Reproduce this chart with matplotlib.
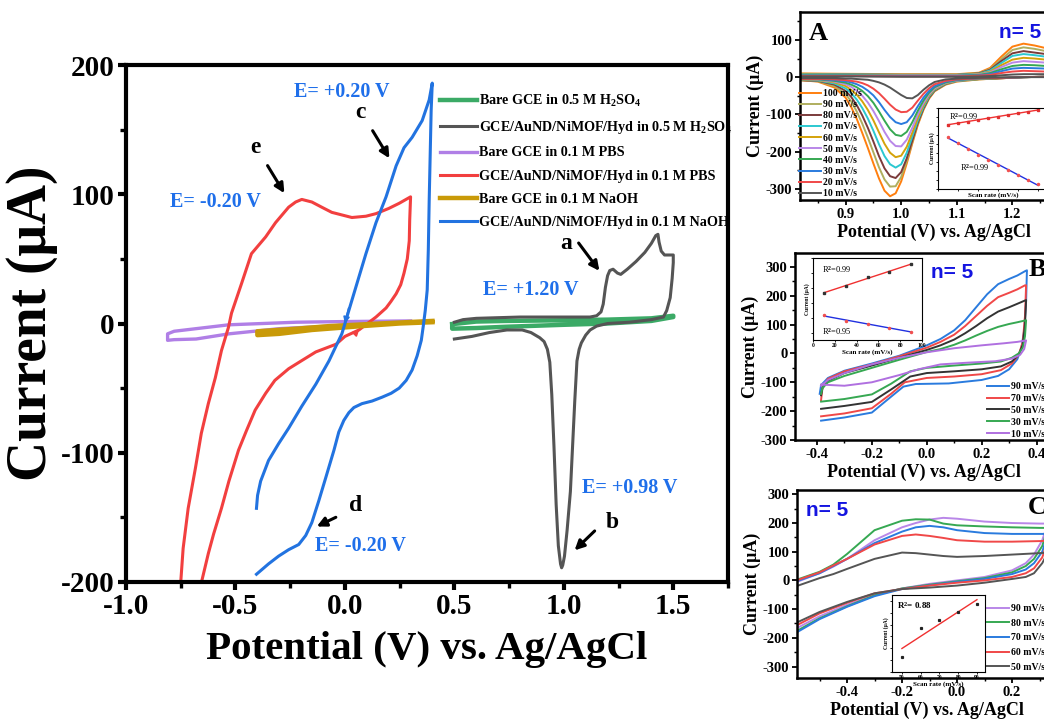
import matplotlib
matplotlib.use('Agg')
import matplotlib.pyplot as plt
import numpy as np
from matplotlib.ticker import MultipleLocator

plt.rcParams['font.family'] = ['Liberation Serif', 'DejaVu Serif']
plt.rcParams['font.weight'] = 'bold'
plt.rcParams['axes.labelweight'] = 'bold'
plt.rcParams['axes.unicode_minus'] = False
plt.rcParams['mathtext.fontset'] = 'custom'
plt.rcParams['mathtext.rm'] = 'Liberation Serif:bold'
plt.rcParams['mathtext.bf'] = 'Liberation Serif:bold'
plt.rcParams['mathtext.it'] = 'Liberation Serif:bold:italic'
plt.rcParams['mathtext.default'] = 'bf'

W, H = 1044, 719

# ---------------- main panel data ----------------
main_labels = ['Bare GCE in 0.5 M H$_2$SO$_4$',
               'GCE/AuND/NiMOF/Hyd in 0.5 M H$_2$SO$_4$',
               'Bare GCE in 0.1 M PBS',
               'GCE/AuND/NiMOF/Hyd in 0.1 M PBS',
               'Bare GCE in 0.1 M NaOH',
               'GCE/AuND/NiMOF/Hyd in 0.1 M NaOH']
main_colors = ['#3BAA66', '#555555', '#B07FE6', '#F23F3F', '#C99A08', '#2273E0']

green_V = [0.49, 0.6, 0.74, 1.0, 1.2, 1.4, 1.5, 1.5, 1.4, 1.2, 1.0, 0.74, 0.6, 0.49, 0.49]
green_I = [-0.5, 1.5, 2, 2.5, 3, 4, 6, 5, 2, 0, -1, -2.5, -3.5, -4, -0.5]

grey_V = [0.50, 0.54, 0.6, 0.8, 1.0, 1.12, 1.15, 1.17, 1.18, 1.19, 1.20, 1.21, 1.225, 1.245, 1.26, 1.29,
          1.33, 1.37, 1.40, 1.42, 1.43, 1.435, 1.445, 1.46, 1.49, 1.50,
          1.50, 1.495, 1.486, 1.47, 1.455, 1.40, 1.30, 1.20, 1.15, 1.12, 1.10, 1.08, 1.07, 1.06, 1.05,
          1.04, 1.03, 1.015, 1.003, 0.995, 0.99, 0.985, 0.975, 0.965, 0.955, 0.945, 0.936, 0.925,
          0.91, 0.89, 0.85, 0.81, 0.74, 0.66, 0.58, 0.50]
grey_I = [1, 3, 4, 5, 5, 5, 6, 9, 15, 28, 37, 41, 42, 39, 38, 42,
          48, 55, 62, 68, 69, 63, 56, 53, 53, 53,
          47, 35, 20, 10, 5, 3, 1, 0, -2, -5, -9, -15, -20, -29, -60,
          -95, -130, -160, -180, -187, -189, -186, -172, -140, -95, -55, -30, -20,
          -14, -11, -7, -5, -5, -7, -10, -12]

purple_V = [0.30, 0.0, -0.22, -0.53, -0.68, -0.78, -0.81, -0.81, -0.78, -0.68, -0.53, -0.30, -0.07, 0.10, 0.30]
purple_I = [2, 1.5, 1, -1, -4, -6, -8, -13, -12.5, -12, -8, -4, -2, 0, 1]

red_V = [-0.752, -0.739, -0.716, -0.683, -0.656, -0.624, -0.592, -0.564, -0.532, -0.518, -0.472, -0.427,
         -0.362, -0.317, -0.257, -0.225, -0.197, -0.151, -0.106, -0.06, -0.014, 0.032, 0.096, 0.142,
         0.2, 0.248, 0.30,
         0.296, 0.294, 0.285, 0.27, 0.255, 0.234, 0.21, 0.188, 0.142, 0.064, 0.0, -0.04, -0.133, -0.2,
         -0.257, -0.32, -0.362, -0.41, -0.45, -0.486, -0.53, -0.564, -0.6, -0.624, -0.662]
red_I = [-205, -174, -143, -112, -85, -62, -42, -21, -3, 8, 31, 54,
         67, 78, 90, 94, 96, 94, 90, 86, 84, 82, 83, 85,
         89, 93, 98,
         80, 64, 50, 39, 30, 23, 17, 12, 5, -5, -10, -16, -22, -29,
         -35, -44, -54, -67, -83, -98, -122, -143, -163, -178, -205]

gold_V = [0.40, 0.16, -0.07, -0.22, -0.35, -0.40, -0.40, -0.30, -0.15, 0.08, 0.25, 0.40]
gold_I = [2, 0, -2, -4, -5.5, -6, -9, -8, -5, -2, 0, 1]

blue_V = [-0.404, -0.399, -0.385, -0.349, -0.303, -0.257, -0.197, -0.133, -0.073, -0.014, 0.032, 0.096,
          0.142, 0.188, 0.234, 0.27, 0.307, 0.353, 0.385, 0.399,
          0.394, 0.39, 0.385, 0.381, 0.376, 0.367, 0.358, 0.349, 0.33, 0.307, 0.28, 0.248, 0.211, 0.17,
          0.124, 0.078, 0.041, 0.018, -0.005, -0.028, -0.05, -0.087, -0.119, -0.151, -0.179, -0.211,
          -0.257, -0.303, -0.349, -0.404]
blue_I = [-143, -133, -122, -106, -93, -81, -64, -47, -29, -8, 18, 54,
          78, 98, 122, 136, 144, 157, 173, 186,
          165, 134, 95, 57, 26, 10, -2, -13, -25, -36, -44, -50, -54, -57,
          -60, -62, -65, -69, -75, -84, -98, -119, -137, -154, -164, -171,
          -175, -180, -186, -194]

# ---------------- panel A data ----------------
A_rates = ['100 mV/s', '90 mV/s', '80 mV/s', '70 mV/s', '60 mV/s',
           '50 mV/s', '40 mV/s', '30 mV/s', '20 mV/s', '10 mV/s']
A_colors = ['#FF7F0E', '#AFAE5E', '#7B3B3B', '#2BC8D0', '#D4A20A',
            '#B987E8', '#36A852', '#2A7BDE', '#F04848', '#555555']
A_up_V = [0.818, 0.90, 1.00, 1.10, 1.14, 1.16, 1.18, 1.20, 1.22, 1.24, 1.26, 1.30]
A_up_I = [
    [10, 9, 8, 8, 12, 25, 55, 82, 90, 85, 78, 72],
    [9, 8, 7, 7, 11, 22, 48, 73, 80, 76, 70, 65],
    [8, 7, 6, 6, 10, 20, 43, 64, 70, 66, 62, 58],
    [8, 7, 6, 6, 9, 18, 38, 57, 62, 59, 55, 52],
    [7, 6, 5, 5, 8, 15, 32, 47, 52, 50, 47, 44],
    [6, 5, 5, 5, 7, 13, 27, 39, 43, 41, 39, 37],
    [5, 5, 4, 4, 6, 11, 21, 30, 33, 32, 30, 29],
    [4, 4, 3, 3, 5, 8, 16, 23, 25, 24, 23, 22],
    [3, 3, 2, 2, 4, 6, 11, 15, 17, 16, 15, 15],
    [2, 2, 1, 1, 2, 3, 5, 7, 8, 8, 8, 7],
]
A_lo_V = [0.818, 0.85, 0.88, 0.90, 0.91, 0.92, 0.93, 0.94, 0.95, 0.96, 0.97, 0.98, 0.99, 1.00,
          1.01, 1.02, 1.03, 1.04, 1.05, 1.06, 1.08, 1.10, 1.14, 1.18, 1.22, 1.26, 1.30]
A_lo_I = [
    [-8, -12, -28, -55, -80, -112, -150, -190, -232, -272, -305, -320, -312, -280, -232, -178, -128, -88, -58, -38, -20, -12, -6, -3, 0, 1, 2],
    [-8, -11, -24, -45, -65, -92, -125, -162, -202, -242, -275, -294, -293, -268, -225, -174, -125, -86, -56, -37, -19, -11, -6, -3, 0, 1, 2],
    [-8, -10, -20, -37, -53, -75, -103, -136, -173, -212, -245, -266, -271, -255, -218, -170, -122, -84, -55, -36, -18, -10, -5, -3, 0, 1, 2],
    [-7, -9, -17, -30, -43, -60, -83, -111, -144, -180, -212, -234, -243, -234, -203, -160, -116, -80, -52, -34, -17, -10, -5, -2, 0, 1, 2],
    [-7, -8, -14, -24, -34, -47, -65, -88, -116, -148, -179, -203, -215, -211, -187, -149, -109, -75, -49, -32, -16, -9, -5, -2, 0, 1, 2],
    [-6, -7, -12, -19, -26, -36, -50, -68, -91, -118, -147, -171, -185, -186, -168, -136, -100, -70, -46, -30, -15, -9, -4, -2, 0, 1, 2],
    [-6, -6, -10, -15, -20, -27, -37, -51, -69, -92, -117, -140, -155, -158, -147, -121, -90, -63, -42, -27, -14, -8, -4, -2, 0, 1, 2],
    [-5, -5, -8, -11, -14, -19, -26, -36, -49, -67, -88, -107, -121, -126, -121, -103, -78, -55, -37, -24, -12, -7, -3, -2, 0, 1, 1],
    [-5, -5, -6, -8, -10, -12, -16, -22, -31, -43, -58, -74, -87, -94, -93, -82, -63, -45, -30, -19, -10, -6, -3, -2, 0, 1, 1],
    [-3, -3, -3, -4, -4, -5, -6, -7, -10, -14, -20, -28, -38, -48, -56, -57, -48, -34, -22, -13, -6, -4, -2, -1, 0, 0, 0],
]
A_ins_rate = [10, 20, 30, 40, 50, 60, 70, 80, 90, 100]
A_ins_ox = [8, 17, 25, 33, 43, 52, 62, 70, 80, 90]
A_ins_red = [-59, -95, -126, -159, -187, -216, -244, -273, -298, -324]

# ---------------- panel B data ----------------
B_rates = ['90 mV/s', '70 mV/s', '50 mV/s', '30 mV/s', '10 mV/s']
B_colors = ['#2A7BDE', '#F04848', '#333333', '#36A852', '#B070E0']
B90_V = [-0.385, -0.30, -0.20, -0.13, -0.085, -0.04, 0.08, 0.2, 0.26, 0.30, 0.33, 0.345, 0.355, 0.362, 0.365,
         0.36, 0.33, 0.30, 0.26, 0.22, 0.18, 0.14, 0.10, 0.05, 0.0, -0.1, -0.2, -0.3, -0.36, -0.385, -0.39]
B90_I = [-233, -222, -205, -150, -115, -106, -104, -92, -78, -55, -20, 20, 80, 180, 288,
         286, 270, 258, 240, 205, 160, 115, 80, 50, 28, -8, -35, -60, -85, -110, -140]
B70_V = [-0.385, -0.30, -0.20, -0.13, -0.08, 0.0, 0.1, 0.2, 0.27, 0.31, 0.335, 0.35, 0.358, 0.362,
         0.358, 0.33, 0.30, 0.26, 0.22, 0.18, 0.14, 0.10, 0.05, 0.0, -0.1, -0.2, -0.3, -0.36, -0.38, -0.385]
B70_I = [-218, -208, -190, -140, -100, -85, -80, -72, -58, -35, -5, 40, 130, 236,
         236, 222, 210, 195, 165, 130, 95, 65, 40, 20, -10, -38, -62, -88, -120, -162]
B50_V = [-0.385, -0.30, -0.20, -0.13, -0.06, 0.0, 0.1, 0.2, 0.27, 0.31, 0.335, 0.35, 0.358, 0.362,
         0.362, 0.33, 0.30, 0.26, 0.22, 0.18, 0.14, 0.10, 0.05, 0.0, -0.1, -0.2, -0.3, -0.36, -0.38, -0.385]
B50_I = [-192, -182, -168, -125, -80, -68, -62, -55, -45, -28, -5, 30, 100, 185,
         185, 172, 160, 145, 122, 95, 70, 48, 28, 12, -15, -42, -68, -95, -120, -145]
B30_V = [-0.385, -0.30, -0.20, -0.13, -0.06, 0.0, 0.1, 0.2, 0.27, 0.31, 0.335, 0.35, 0.358, 0.362,
         0.362, 0.33, 0.30, 0.26, 0.22, 0.18, 0.14, 0.10, 0.05, 0.0, -0.1, -0.2, -0.3, -0.36, -0.38, -0.385]
B30_I = [-167, -158, -142, -105, -62, -50, -42, -35, -28, -15, 0, 20, 60, 115,
         115, 108, 102, 92, 78, 62, 45, 30, 15, 5, -22, -50, -78, -100, -120, -140]
B10_V = [-0.385, -0.30, -0.20, -0.10, -0.03, 0.05, 0.15, 0.25, 0.31, 0.34, 0.355, 0.362,
         0.362, 0.33, 0.28, 0.20, 0.10, 0.0, -0.1, -0.2, -0.3, -0.36, -0.385]
B10_I = [-108, -112, -100, -75, -55, -38, -32, -27, -18, -5, 15, 45,
         45, 40, 35, 28, 18, 4, -15, -38, -68, -92, -112]
B_ins_rate = [10, 30, 50, 70, 90]
B_ins_ox = [65, 115, 170, 205, 260]
B_ins_red = [-85, -122, -140, -170, -195]

# ---------------- panel C data ----------------
C_rates = ['90 mV/s', '80 mV/s', '70 mV/s', '60 mV/s', '50 mV/s']
C_colors = ['#B987E8', '#36A852', '#2A7BDE', '#F04848', '#555555']
C_up_V = [-0.59, -0.5, -0.45, -0.4, -0.3, -0.2, -0.15, -0.1, -0.05, 0.0, 0.1, 0.2, 0.3, 0.33]
C_up_I = [
    [-8, 25, 48, 75, 140, 185, 200, 212, 218, 215, 205, 200, 198, 198],
    [0, 30, 55, 92, 175, 208, 213, 212, 198, 192, 188, 185, 183, 183],
    [-5, 25, 50, 75, 130, 170, 185, 190, 185, 175, 165, 162, 162, 162],
    [-2, 28, 52, 75, 125, 155, 160, 155, 148, 140, 135, 135, 137, 138],
    [-22, 8, 22, 40, 75, 97, 95, 90, 85, 82, 85, 90, 95, 97],
]
C_lo_V = [0.33, 0.31, 0.28, 0.25, 0.2, 0.1, 0.0, -0.1, -0.2, -0.3, -0.4, -0.5, -0.59]
C_lo_I = [
    [198, 140, 90, 60, 35, 12, 0, -12, -28, -50, -85, -125, -170],
    [183, 120, 75, 50, 28, 8, -3, -15, -28, -52, -90, -132, -180],
    [162, 100, 60, 38, 22, 5, -5, -17, -30, -55, -92, -135, -185],
    [138, 80, 42, 25, 12, 0, -8, -18, -30, -45, -78, -115, -160],
    [97, 60, 25, 12, 5, -8, -18, -25, -30, -45, -75, -110, -150],
]
C_ins_rate = [50, 60, 70, 80, 90]
C_ins_I = [51, 149, 176, 203, 230]


def box(l, t, r, b):
    return [l / W, 1 - b / H, (r - l) / W, (b - t) / H]


def style(ax, lw, fs, ml, nl, tw):
    for s in ax.spines.values():
        s.set_linewidth(lw)
    ax.tick_params(which='major', direction='out', length=ml, width=tw, labelsize=fs, pad=2)
    ax.tick_params(which='minor', direction='out', length=nl, width=tw * 0.8)
    for lab in ax.get_xticklabels() + ax.get_yticklabels():
        lab.set_fontweight('bold')


fig = plt.figure(figsize=(W / 100, H / 100), dpi=100)

# ================= MAIN =================
ax = fig.add_axes(box(126, 65, 728, 582))
ax.plot(green_V, green_I, color=main_colors[0], lw=3.2, label=main_labels[0])
ax.plot(grey_V, grey_I, color=main_colors[1], lw=2.2, label=main_labels[1])
ax.plot(purple_V, purple_I, color=main_colors[2], lw=2.4, label=main_labels[2])
ax.plot(red_V, red_I, color=main_colors[3], lw=2.2, label=main_labels[3])
ax.plot(gold_V, gold_I, color=main_colors[4], lw=3.2, label=main_labels[4])
ax.plot(blue_V, blue_I, color=main_colors[5], lw=2.2, label=main_labels[5])
# small direction arrowheads on the curves
ax.annotate('', xy=(-0.003, -2), xytext=(0.02, 14),
            arrowprops=dict(arrowstyle='-|>', lw=1.2, color=main_colors[5], mutation_scale=9))
ax.annotate('', xy=(0.075, -3), xytext=(0.04, -9),
            arrowprops=dict(arrowstyle='-|>', lw=1.2, color=main_colors[3], mutation_scale=9))
ax.set_xlim(-1.0, 1.75)
ax.set_ylim(-200, 200)
ax.xaxis.set_major_locator(MultipleLocator(0.5))
ax.xaxis.set_minor_locator(MultipleLocator(0.25))
ax.yaxis.set_major_locator(MultipleLocator(100))
ax.yaxis.set_minor_locator(MultipleLocator(50))
style(ax, 3.0, 21, 6, 4, 3)
ax.set_xlabel('Potential (V) vs. Ag/AgCl', fontsize=29.5, labelpad=8)
ax.set_ylabel('Current (μA)', fontsize=40, labelpad=2)
ax.legend(loc='upper left', bbox_to_anchor=(440 / W, 1 - 93 / H), bbox_transform=fig.transFigure,
          frameon=False, fontsize=10.2, handlelength=2.6, handletextpad=0.15, labelspacing=0.72,
          borderpad=0, borderaxespad=0)

blue_txt = '#1F6FEA'
for (x, y, s) in [(-0.014, 179, 'E= +0.20 V'), (-0.59, 94, 'E= -0.20 V'), (0.85, 26, 'E= +1.20 V'),
                  (1.30, -127, 'E= +0.98 V'), (0.07, -172, 'E= -0.20 V')]:
    ax.text(x, y, s, color=blue_txt, fontsize=14.5, ha='center', va='center', fontweight='bold')

for (lx, ly, s, x0, y0, x1, y1) in [(0.07, 163, 'c', 0.12, 151, 0.21, 126),
                                    (-0.41, 136, 'e', -0.36, 124, -0.27, 99),
                                    (1.01, 62, 'a', 1.06, 64, 1.17, 39),
                                    (1.22, -154, 'b', 1.15, -159, 1.04, -177),
                                    (0.05, -141, 'd', -0.03, -149, -0.14, -158)]:
    ax.text(lx, ly, s, fontsize=17, ha='center', va='center', fontweight='bold')
    ax.annotate('', xy=(x1, y1), xytext=(x0, y0),
                arrowprops=dict(arrowstyle='-|>', lw=2.2, color='k', mutation_scale=14))

# ================= PANEL A =================
axA = fig.add_axes(box(800, 12, 1068, 200))
for k in range(len(A_rates)):
    V = A_up_V + A_lo_V[::-1]
    I = A_up_I[k] + A_lo_I[k][::-1]
    axA.plot(V, I, color=A_colors[k], lw=1.4, label=A_rates[k])
axA.set_xlim(0.818, 1.30)
axA.set_ylim(-330, 175)
axA.xaxis.set_major_locator(MultipleLocator(0.1))
axA.xaxis.set_minor_locator(MultipleLocator(0.05))
axA.yaxis.set_major_locator(MultipleLocator(100))
axA.yaxis.set_minor_locator(MultipleLocator(50))
style(axA, 1.8, 10.5, 3.5, 2, 1.3)
axA.set_xlabel('Potential (V) vs. Ag/AgCl', fontsize=13, labelpad=2)
axA.set_ylabel('Current (μA)', fontsize=13, labelpad=1)
axA.legend(loc='upper left', bbox_to_anchor=(799 / W, 1 - 89 / H), bbox_transform=fig.transFigure,
           frameon=False, fontsize=7, handlelength=2.3, handletextpad=0.2, labelspacing=0.22,
           borderpad=0, borderaxespad=0)
fig.text(818 / W, 1 - 33 / H, 'A', fontsize=19, ha='center', va='center', fontweight='bold')
fig.text(1020 / W, 1 - 32 / H, 'n= 5', fontsize=15, ha='center', va='center', fontweight='bold',
         color='#1414E0', family='Liberation Sans')

axAi = fig.add_axes(box(938, 108, 1048, 189))
pr = np.polyfit(A_ins_rate, A_ins_ox, 1)
pb = np.polyfit(A_ins_rate, A_ins_red, 1)
xr = np.array([A_ins_rate[0], A_ins_rate[-1]])
axAi.plot(xr, np.polyval(pr, xr), color='#F03030', lw=1.0)
axAi.plot(A_ins_rate, A_ins_ox, 's', color='#E03030', ms=1.5)
axAi.plot(xr, np.polyval(pb, xr), color='#2030E0', lw=1.0)
axAi.plot(A_ins_rate, A_ins_red, 'o', color='#F05050', ms=1.5)
axAi.set_xlim(0, 110)
axAi.set_ylim(-350, 100)
axAi.xaxis.set_major_locator(MultipleLocator(20))
axAi.yaxis.set_major_locator(MultipleLocator(50))
axAi.tick_params(labelbottom=False, labelleft=False, length=1.5, width=0.6, direction='out')
for s in axAi.spines.values():
    s.set_linewidth(0.8)
axAi.set_xlabel('Scan rate (mV/s)', fontsize=5, labelpad=1)
axAi.set_ylabel('Current (μA)', fontsize=4, labelpad=1)
axAi.text(0.1, 0.85, 'R$^2$=0.99', transform=axAi.transAxes, fontsize=6, fontweight='normal')
axAi.text(0.2, 0.22, 'R$^2$=0.99', transform=axAi.transAxes, fontsize=6, fontweight='normal')

# ================= PANEL B =================
axB = fig.add_axes(box(795, 253, 1053, 440))
for V, I, c, lab in [(B90_V, B90_I, B_colors[0], B_rates[0]), (B70_V, B70_I, B_colors[1], B_rates[1]),
                     (B50_V, B50_I, B_colors[2], B_rates[2]), (B30_V, B30_I, B_colors[3], B_rates[3]),
                     (B10_V, B10_I, B_colors[4], B_rates[4])]:
    axB.plot(V, I, color=c, lw=1.4, label=lab)
axB.set_xlim(-0.48, 0.46)
axB.set_ylim(-300, 348)
axB.xaxis.set_major_locator(MultipleLocator(0.2))
axB.xaxis.set_minor_locator(MultipleLocator(0.1))
axB.yaxis.set_major_locator(MultipleLocator(100))
axB.yaxis.set_minor_locator(MultipleLocator(50))
style(axB, 1.8, 10.5, 3.5, 2, 1.3)
axB.set_xlabel('Potential (V) vs. Ag/AgCl', fontsize=13, labelpad=2)
axB.set_ylabel('Current (μA)', fontsize=13, labelpad=1)
axB.legend(loc='upper left', bbox_to_anchor=(987 / W, 1 - 382 / H), bbox_transform=fig.transFigure,
           frameon=False, fontsize=7, handlelength=2.3, handletextpad=0.2, labelspacing=0.3,
           borderpad=0, borderaxespad=0)
fig.text(952 / W, 1 - 272 / H, 'n= 5', fontsize=15, ha='center', va='center', fontweight='bold',
         color='#1414E0', family='Liberation Sans')
fig.text(1037 / W, 1 - 270 / H, 'B', fontsize=19, ha='center', va='center', fontweight='bold')

axBi = fig.add_axes(box(813, 258, 922, 340))
pr = np.polyfit(B_ins_rate, B_ins_ox, 1)
pb = np.polyfit(B_ins_rate, B_ins_red, 1)
xr = np.array([B_ins_rate[0], B_ins_rate[-1]])
axBi.plot(xr, np.polyval(pr, xr), color='#F03030', lw=1.0)
axBi.plot(B_ins_rate, B_ins_ox, 's', color='#333333', ms=1.5)
axBi.plot(xr, np.polyval(pb, xr), color='#2030E0', lw=1.0)
axBi.plot(B_ins_rate, B_ins_red, 'o', color='#F05050', ms=1.5)
axBi.set_xlim(0, 100)
axBi.set_ylim(-250, 300)
axBi.xaxis.set_major_locator(MultipleLocator(20))
axBi.yaxis.set_major_locator(MultipleLocator(100))
axBi.tick_params(labelleft=False, length=1.5, width=0.6, direction='out', labelsize=4, pad=1)
for s in axBi.spines.values():
    s.set_linewidth(0.8)
axBi.set_xlabel('Scan rate (mV/s)', fontsize=5, labelpad=0.5)
axBi.set_ylabel('Current (μA)', fontsize=4, labelpad=1)
axBi.text(0.08, 0.82, 'R$^2$=0.99', transform=axBi.transAxes, fontsize=6, fontweight='normal')
axBi.text(0.08, 0.06, 'R$^2$=0.95', transform=axBi.transAxes, fontsize=6, fontweight='normal')

# ================= PANEL C =================
axC = fig.add_axes(box(797, 490, 1056, 678))
for k in range(len(C_rates)):
    V = C_up_V + C_lo_V
    I = C_up_I[k] + C_lo_I[k]
    axC.plot(V, I, color=C_colors[k], lw=1.4, label=C_rates[k])
axC.set_xlim(-0.582, 0.36)
axC.set_ylim(-340, 315)
axC.xaxis.set_major_locator(MultipleLocator(0.2))
axC.xaxis.set_minor_locator(MultipleLocator(0.1))
axC.yaxis.set_major_locator(MultipleLocator(100))
axC.yaxis.set_minor_locator(MultipleLocator(50))
style(axC, 1.8, 10.5, 3.5, 2, 1.3)
axC.set_xlabel('Potential (V) vs. Ag/AgCl', fontsize=13, labelpad=2)
axC.set_ylabel('Current (μA)', fontsize=13, labelpad=1)
axC.legend(loc='upper left', bbox_to_anchor=(987 / W, 1 - 604 / H), bbox_transform=fig.transFigure,
           frameon=False, fontsize=7, handlelength=2.3, handletextpad=0.2, labelspacing=0.58,
           borderpad=0, borderaxespad=0)
fig.text(827 / W, 1 - 510 / H, 'n= 5', fontsize=15, ha='center', va='center', fontweight='bold',
         color='#1414E0', family='Liberation Sans')
fig.text(1037 / W, 1 - 508 / H, 'C', fontsize=19, ha='center', va='center', fontweight='bold')

axCi = fig.add_axes(box(892, 595, 985, 672))
pc = np.polyfit(C_ins_rate, C_ins_I, 1)
xr = np.array([C_ins_rate[0], C_ins_rate[-1]])
axCi.plot(xr, np.polyval(pc, xr), color='#F03030', lw=1.0)
axCi.plot(C_ins_rate, C_ins_I, 's', color='#222222', ms=1.3)
axCi.set_xlim(44.7, 94.3)
axCi.set_ylim(0, 260)
axCi.xaxis.set_major_locator(MultipleLocator(10))
axCi.yaxis.set_major_locator(MultipleLocator(40))
axCi.tick_params(labelleft=False, length=1.5, width=0.6, direction='out', labelsize=4, pad=1)
for s in axCi.spines.values():
    s.set_linewidth(0.8)
axCi.set_xlabel('Scan rate (mV/s)', fontsize=5, labelpad=0.5)
axCi.set_ylabel('Current (μA)', fontsize=4, labelpad=1)
axCi.text(0.05, 0.82, 'R$^2$= 0.88', transform=axCi.transAxes, fontsize=6.5)

fig.savefig('out.png', dpi=100)
